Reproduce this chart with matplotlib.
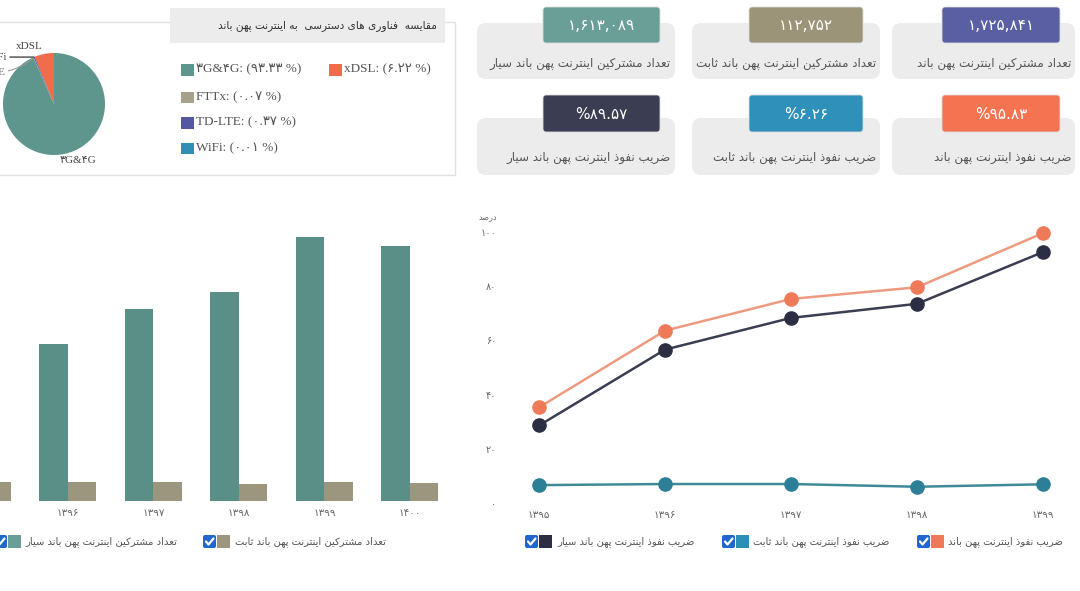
import matplotlib
matplotlib.use('Agg')
import matplotlib.pyplot as plt
from matplotlib.patches import FancyBboxPatch, Rectangle
from matplotlib.lines import Line2D

# ---------------- data ----------------
pie_labels = ['xDSL', 'WiFi', 'TD-LTE', 'FTTx', '3G&4G']
pie_shares = [6.22, 0.01, 0.37, 0.07, 93.33]
pie_colors = ['#ef6c4d', '#2f8fb5', '#5558a0', '#a8a28c', '#5e958d']
pie_title = 'مقایسه  فناوری های دسترسی  به اینترنت پهن باند'

kpi_titles_1 = ['تعداد مشترکین اینترنت پهن باند سیار',
                'تعداد مشترکین اینترنت پهن باند ثابت',
                'تعداد مشترکین اینترنت پهن باند']
kpi_values_1 = ['۱,۶۱۳,۰۸۹', '۱۱۲,۷۵۲', '۱,۷۲۵,۸۴۱']
kpi_colors_1 = ['#6a9f97', '#9b9479', '#5a5ea3']
kpi_titles_2 = ['ضریب نفوذ اینترنت پهن باند سیار',
                'ضریب نفوذ اینترنت پهن باند ثابت',
                'ضریب نفوذ اینترنت پهن باند']
kpi_values_2 = ['%۸۹.۵۷', '%۶.۲۶', '%۹۵.۸۳']
kpi_colors_2 = ['#3b3e52', '#2f91ba', '#f47452']

line_years = ['۱۳۹۵', '۱۳۹۶', '۱۳۹۷', '۱۳۹۸', '۱۳۹۹']
pen_total = [35.3, 63.6, 75.3, 79.6, 99.6]
pen_mobile = [28.6, 56.6, 68.3, 73.5, 92.6]
pen_fixed = [6.6, 7.0, 7.0, 6.0, 6.9]
line_yticks = [0, 20, 40, 60, 80, 100]
line_ylabel = 'درصد'
line_legend = ['ضریب نفوذ اینترنت پهن باند سیار',
               'ضریب نفوذ اینترنت پهن باند ثابت',
               'ضریب نفوذ اینترنت پهن باند']

bar_years = ['۱۳۹۵', '۱۳۹۶', '۱۳۹۷', '۱۳۹۸', '۱۳۹۹', '۱۴۰۰']
subs_mobile = [35.0, 48.8, 59.7, 64.9, 82.0, 79.4]
subs_fixed = [5.9, 5.9, 5.9, 5.2, 5.9, 5.6]
bar_legend = ['تعداد مشترکین اینترنت پهن باند سیار',
              'تعداد مشترکین اینترنت پهن باند ثابت']

# ---------------- helpers ----------------
_F = {
    'ا': ('\uFE8D', '\uFE8E'), 'آ': ('\uFE81', '\uFE82'),
    'ب': ('\uFE8F', '\uFE90', '\uFE91', '\uFE92'),
    'پ': ('\uFB56', '\uFB57', '\uFB58', '\uFB59'),
    'ت': ('\uFE95', '\uFE96', '\uFE97', '\uFE98'),
    'ث': ('\uFE99', '\uFE9A', '\uFE9B', '\uFE9C'),
    'ج': ('\uFE9D', '\uFE9E', '\uFE9F', '\uFEA0'),
    'چ': ('\uFB7A', '\uFB7B', '\uFB7C', '\uFB7D'),
    'ح': ('\uFEA1', '\uFEA2', '\uFEA3', '\uFEA4'),
    'خ': ('\uFEA5', '\uFEA6', '\uFEA7', '\uFEA8'),
    'د': ('\uFEA9', '\uFEAA'), 'ذ': ('\uFEAB', '\uFEAC'),
    'ر': ('\uFEAD', '\uFEAE'), 'ز': ('\uFEAF', '\uFEB0'),
    'ژ': ('\uFB8A', '\uFB8B'),
    'س': ('\uFEB1', '\uFEB2', '\uFEB3', '\uFEB4'),
    'ش': ('\uFEB5', '\uFEB6', '\uFEB7', '\uFEB8'),
    'ص': ('\uFEB9', '\uFEBA', '\uFEBB', '\uFEBC'),
    'ض': ('\uFEBD', '\uFEBE', '\uFEBF', '\uFEC0'),
    'ط': ('\uFEC1', '\uFEC2', '\uFEC3', '\uFEC4'),
    'ظ': ('\uFEC5', '\uFEC6', '\uFEC7', '\uFEC8'),
    'ع': ('\uFEC9', '\uFECA', '\uFECB', '\uFECC'),
    'غ': ('\uFECD', '\uFECE', '\uFECF', '\uFED0'),
    'ف': ('\uFED1', '\uFED2', '\uFED3', '\uFED4'),
    'ق': ('\uFED5', '\uFED6', '\uFED7', '\uFED8'),
    'ک': ('\uFB8E', '\uFB8F', '\uFB90', '\uFB91'),
    'گ': ('\uFB92', '\uFB93', '\uFB94', '\uFB95'),
    'ل': ('\uFEDD', '\uFEDE', '\uFEDF', '\uFEE0'),
    'م': ('\uFEE1', '\uFEE2', '\uFEE3', '\uFEE4'),
    'ن': ('\uFEE5', '\uFEE6', '\uFEE7', '\uFEE8'),
    'و': ('\uFEED', '\uFEEE'),
    'ه': ('\uFEE9', '\uFEEA', '\uFEEB', '\uFEEC'),
    'ی': ('\uFBFC', '\uFBFD', '\uFBFE', '\uFBFF'),
}


def fa(text):
    """Shape Persian letters and put them in visual (left-to-right) order."""
    chars = list(text)
    n = len(chars)
    out = []
    for i, c in enumerate(chars):
        if c not in _F:
            out.append(c)
            continue
        forms = _F[c]
        prev = chars[i - 1] if i > 0 else None
        nxt = chars[i + 1] if i < n - 1 else None
        jp = prev in _F and len(_F[prev]) == 4
        jn = len(forms) == 4 and nxt in _F
        if jp and jn:
            out.append(forms[3])
        elif jp:
            out.append(forms[1])
        elif jn:
            out.append(forms[2])
        else:
            out.append(forms[0])
    return ''.join(out).replace('\u200c', '')[::-1]


_DIG = str.maketrans('0123456789', '۰۱۲۳۴۵۶۷۸۹')


def fadigits(s):
    return str(s).translate(_DIG)


W, H = 1080, 591


def box(x0, y0, x1, y1):
    return [x0 / W, 1 - y1 / H, (x1 - x0) / W, (y1 - y0) / H]


FONT = ['DejaVu Sans']
SERIF = ['Liberation Serif', 'DejaVu Sans']
plt.rcParams['font.family'] = FONT
TXT = '#555555'

fig = plt.figure(figsize=(W / 100, H / 100), dpi=100, facecolor='white')
bg = fig.add_axes([0, 0, 1, 1], zorder=0)
bg.set_xlim(0, W)
bg.set_ylim(H, 0)
bg.axis('off')


def rrect(x0, y0, x1, y1, color, r=6, ec='none', lw=0, z=1):
    p = FancyBboxPatch((x0, y0), x1 - x0, y1 - y0,
                       boxstyle='round,pad=0,rounding_size=%g' % r,
                       facecolor=color, edgecolor=ec, linewidth=lw, zorder=z)
    bg.add_patch(p)


def checkbox(x0, y0, size=13):
    rrect(x0, y0, x0 + size, y0 + size, '#1f66cf', r=2, z=3)
    bg.add_line(Line2D([x0 + 3, x0 + 5.5, x0 + 10.5],
                       [y0 + 6.5, y0 + 9.5, y0 + 3.5],
                       color='white', lw=1.6, zorder=4,
                       solid_capstyle='round'))


# ---------------- KPI cards ----------------
card_x = [(477, 675), (692, 880), (892, 1075)]
box_x = [(543, 660), (749, 863), (942, 1060)]
rows = [
    (kpi_titles_1, kpi_values_1, kpi_colors_1, (23, 79), (7, 43), 63),
    (kpi_titles_2, kpi_values_2, kpi_colors_2, (118, 175), (95, 132), 157),
]
for titles, values, colors, (gy0, gy1), (by0, by1), ty in rows:
    for k in range(3):
        cx0, cx1 = card_x[k]
        bx0, bx1 = box_x[k]
        rrect(cx0, gy0, cx1, gy1, '#ececec', r=9, z=1)
        rrect(bx0, by0, bx1, by1, colors[k], r=3, ec='#dcdcdc', lw=0.6, z=2)
        bg.text((bx0 + bx1) / 2, (by0 + by1) / 2 + 1, values[k], color='white',
                fontsize=11, ha='center', va='center', zorder=3)
        bg.text(cx1 - 4, ty, fa(titles[k]), color=TXT, fontsize=8.6,
                ha='right', va='center', zorder=3)

# ---------------- Pie panel ----------------
bg.add_patch(Rectangle((-2, 22), 457, 153, facecolor='white',
                       edgecolor='#e2e2e2', lw=1, zorder=1))
bg.add_patch(Rectangle((170, 8), 275, 35, facecolor='#ececec',
                       edgecolor='none', zorder=2))
bg.text(437, 26, fa(pie_title), color='#333333', fontsize=7.6,
        ha='right', va='center', zorder=3)

leg_pos = {'3G&4G': (181, 69.5), 'xDSL': (329, 69.5), 'FTTx': (181, 97),
           'TD-LTE': (181, 122.5), 'WiFi': (181, 148)}
for lab, share, col in zip(pie_labels, pie_shares, pie_colors):
    x, y = leg_pos[lab]
    bg.add_patch(Rectangle((x, y - 5.5), 12.5, 11.5, facecolor=col,
                           edgecolor='none', zorder=3))
    bg.text(x + 15, y, '%s: (%s %%)' % (fadigits(lab), fadigits('%.2f' % share)),
            color=TXT, fontsize=9.5, family=SERIF, ha='left', va='center',
            zorder=3)

axp = fig.add_axes(box(3, 53, 105, 155), zorder=2)
axp.patch.set_alpha(0)
axp.pie(pie_shares, colors=pie_colors, startangle=90, counterclock=True,
        radius=1, wedgeprops=dict(linewidth=0))
axp.set_xlim(-1, 1)
axp.set_ylim(-1, 1)
axp.set_aspect('equal')
axp.axis('off')
axp.text(-0.49, 1.13, 'xDSL', family=SERIF, fontsize=8, color='#444',
         ha='center', va='center', clip_on=False)
axp.text(0.47, -1.1, fadigits('3G&4G'), family=SERIF, fontsize=8,
         color='#444', ha='center', va='center', clip_on=False)
axp.annotate('WiFi', xy=(-0.39, 0.92), xytext=(-0.92, 0.92),
             family=SERIF, fontsize=8, color='#444', ha='right', va='center',
             arrowprops=dict(arrowstyle='-', color='#333', lw=0.9,
                             shrinkA=0, shrinkB=0), annotation_clip=False)
axp.annotate('TD-LTE', xy=(-0.40, 0.90), xytext=(-0.95, 0.62),
             family=SERIF, fontsize=8, color='#777', ha='right', va='center',
             arrowprops=dict(arrowstyle='-', color='#999', lw=0.8,
                             shrinkA=0, shrinkB=0,
                             connectionstyle='arc3,rad=0.2'),
             annotation_clip=False)

# ---------------- Line chart ----------------
axl = fig.add_axes(box(520, 232, 1060, 503), zorder=2)
axl.patch.set_alpha(0)
xs = list(range(len(line_years)))
axl.plot(xs, pen_total, color='#ee9a80', lw=1.8, marker='o', ms=9.5,
         mfc='#ef7a5a', mec='#ef7a5a', clip_on=False, zorder=3)
axl.plot(xs, pen_mobile, color='#3a3e52', lw=1.8, marker='o', ms=9.5,
         mfc='#2c2f44', mec='#2c2f44', clip_on=False, zorder=4)
axl.plot(xs, pen_fixed, color='#3f8a98', lw=1.8, marker='o', ms=9.5,
         mfc='#2c7f96', mec='#2c7f96', clip_on=False, zorder=4)
axl.set_xticks(xs)
axl.set_xticklabels(line_years, fontsize=7.5, color='#666')
axl.set_yticks(line_yticks)
axl.set_yticklabels([fadigits(v) for v in line_yticks], fontsize=7,
                    color='#666')
axl.set_xlim(-0.151, 4.135)
axl.set_ylim(0, 100)
axl.tick_params(axis='x', length=0, pad=5)
axl.tick_params(axis='y', length=0, pad=17)
for s in axl.spines.values():
    s.set_visible(False)
bg.text(488, 218, fa(line_ylabel), fontsize=5.8, color='#666',
        ha='center', va='center')

leg_items = [((525, 557), '#2c2f44', line_legend[0]),
             ((722, 753), '#2c8fb5', line_legend[1]),
             ((917, 948), '#ef7a5a', line_legend[2])]
for (cx, tx), col, lab in leg_items:
    checkbox(cx, 535)
    bg.add_patch(Rectangle((cx + 14, 535), 13, 13, facecolor=col,
                           edgecolor='none', zorder=3))
    bg.text(tx, 541.5, fa(lab), fontsize=7.2, color=TXT, ha='left',
            va='center', zorder=3)

# ---------------- Bar chart ----------------
axb = fig.add_axes(box(0, 230, 460, 500.7), zorder=2)
axb.patch.set_alpha(0)
bx = list(range(len(bar_years)))
bw = 1 / 3
axb.bar([v - bw / 2 for v in bx], subs_mobile, width=bw, color='#5a8f87',
        edgecolor='none')
axb.bar([v + bw / 2 for v in bx], subs_fixed, width=bw, color='#9d967f',
        edgecolor='none')
axb.set_xticks(bx)
axb.set_xticklabels(bar_years, fontsize=7.5, color='#666')
axb.set_yticks([])
axb.set_xlim(0.2047, 5.585)
axb.set_ylim(0, 270.7 / 3.21)
axb.tick_params(axis='x', length=0, pad=5)
for s in axb.spines.values():
    s.set_visible(False)

bar_leg = [((-6, 25), '#6a9f97', bar_legend[0]),
           ((203, 235), '#9d967f', bar_legend[1])]
for (cx, tx), col, lab in bar_leg:
    checkbox(cx, 535)
    bg.add_patch(Rectangle((cx + 14, 535), 13, 13, facecolor=col,
                           edgecolor='none', zorder=3))
    bg.text(tx, 541.5, fa(lab), fontsize=7.2, color=TXT, ha='left',
            va='center', zorder=3)

fig.savefig('out.png', dpi=100, facecolor='white')
